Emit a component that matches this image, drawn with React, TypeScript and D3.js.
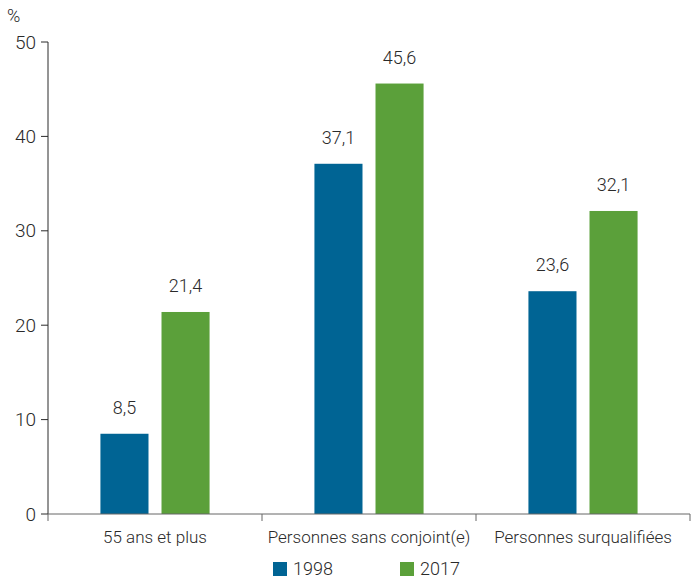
import React from "react";
import * as d3 from "d3";

const categories = ["55 ans et plus", "Personnes sans conjoint(e)", "Personnes surqualifiées"];
const series = ["1998", "2017"];
const values1998 = [8.5, 37.1, 23.6];
const values2017 = [21.4, 45.6, 32.1];
const yTicks = [0, 10, 20, 30, 40, 50];
const colors = ["#006494", "#5ba03a"];

const W = 700, H = 579;
const left = 48, right = 690, top = 42, bottom = 514;
const FONT = "Roboto, sans-serif";

export default function App() {
  const x = d3.scaleBand<string>().domain(categories).range([left, right]).paddingInner(0).paddingOuter(0);
  const bw = x.bandwidth();
  const inner = d3.scaleBand<string>().domain(series).range([bw * 0.245, bw * 0.755]).paddingInner(0.213).paddingOuter(0);
  const y = d3.scaleLinear().domain([0, 50]).range([bottom, top]);
  const data = [values1998, values2017];
  const fmt = (v: number) => v.toFixed(1).replace(".", ",");
  const textColor = "#2a2a2a";
  return (
    <svg width={W} height={H} style={{ display: "block", position: "absolute", left: 0, top: 0 }} fontFamily={FONT} fontWeight={300}>
      <text x={7} y={22} fontSize={18} fill={textColor}>%</text>
      {yTicks.map((t) => (
        <g key={t}>
          <line x1={left - 7} x2={left} y1={y(t)} y2={y(t)} stroke={textColor} strokeWidth={1} />
          <text x={left - 12} y={y(t)} dy="0.35em" textAnchor="end" fontSize={19} fill={textColor}>{t}</text>
        </g>
      ))}
      <line x1={left} x2={left} y1={top} y2={bottom} stroke={textColor} strokeWidth={1} />
      {categories.map((c, i) =>
        series.map((s, j) => {
          const v = data[j][i];
          const bx = (x(c) as number) + (inner(s) as number);
          return (
            <g key={c + s}>
              <rect x={bx} y={y(v)} width={inner.bandwidth()} height={bottom - y(v)} fill={colors[j]} />
              <text x={bx + inner.bandwidth() / 2} y={y(v) - 20} textAnchor="middle" fontSize={18} fill={textColor}>{fmt(v)}</text>
            </g>
          );
        })
      )}
      <line x1={left} x2={right} y1={bottom} y2={bottom} stroke="#666" strokeWidth={1} />
      {[...categories.map((c) => x(c) as number), right].map((tx, i) => (
        <line key={i} x1={tx} x2={tx} y1={bottom} y2={bottom + 7} stroke="#666" strokeWidth={1} />
      ))}
      {categories.map((c) => (
        <text key={c} x={(x(c) as number) + x.bandwidth() / 2} y={bottom + 29} textAnchor="middle" fontSize={17} fill={textColor}>{c}</text>
      ))}
      {series.map((s, j) => (
        <g key={s} transform={`translate(${273 + j * 127},0)`}>
          <rect x={0} y={562} width={14} height={14} fill={colors[j]} />
          <text x={20} y={575} fontSize={18} fill={textColor}>{s}</text>
        </g>
      ))}
    </svg>
  );
}
